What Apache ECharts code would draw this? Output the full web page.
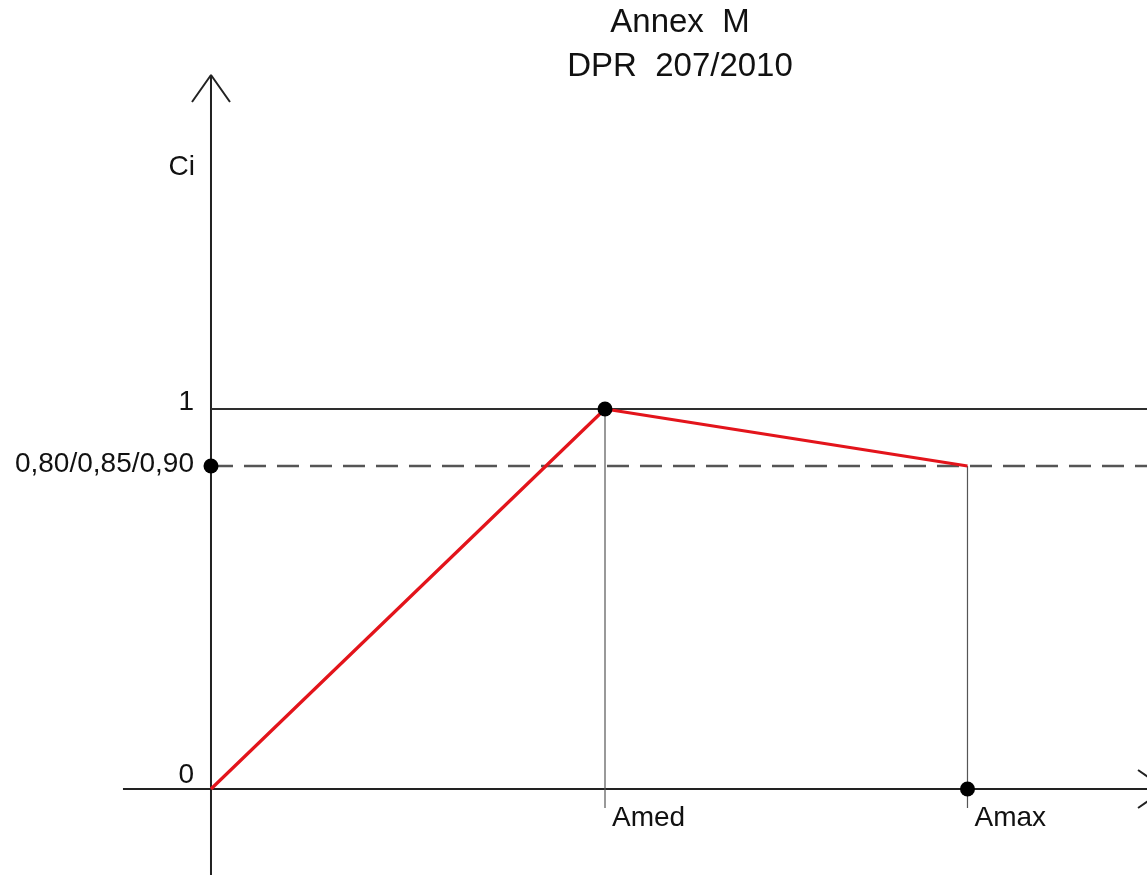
<!DOCTYPE html>
<html>
<head>
<meta charset="utf-8">
<script src="https://cdn.jsdelivr.net/npm/echarts@6/dist/echarts.min.js"></script>
<style>
html,body{margin:0;padding:0;background:#fff;}
#c{width:1147px;height:875px;}
</style>
</head>
<body>
<div id="c"></div>
<script>
// ---- data ----
const titleLines = ['Annex  M', 'DPR  207/2010'];
const yAxisName = 'Ci';
const xKeyValues = [0, 1, 1.92];            // origin, Amed, Amax
const xKeyLabels = ['', 'Amed', 'Amax'];
const ciValues = [0, 1, 0.85];              // Ci at origin, Amed, Amax
const refLevels = [1, 0.85];                // solid line at 1, dashed at 0.85
const yTickValues = [0, 0.85, 1];
const yTickLabels = ['0', '0,80/0,85/0,90', '1'];

// ---- axis extents (chart units) ----
const xMin = -0.5355, xMax = 2.3756;
const yMin = -0.2263, yMax = 2.0763;
const xAxisStart = -0.2234, xAxisTip = 2.4213, xArrowBack = 2.3528, xArrowHalf = 0.05;
const yAxisTip = 1.879, yArrowBack = 1.808, yArrowHalf = 0.0482;
const dropBottom = -0.05;

const font = 'Liberation Sans, Arial, Helvetica, sans-serif';
const axisColor = '#222';
const thinColor = '#555';

const chart = echarts.init(document.getElementById('c'));

const lineSeries = (data, color, width, type, z) => ({
  type: 'line', data, symbol: 'none', silent: true, clip: false, animation: false,
  lineStyle: { color, width, type: type || 'solid' }, z: z || 2
});

const series = [];
// axes
series.push(lineSeries([[xAxisStart, 0], [xAxisTip, 0]], axisColor, 2));
series.push(lineSeries([[xArrowBack, xArrowHalf], [xAxisTip, 0], [xArrowBack, -xArrowHalf]], axisColor, 2));
series.push(lineSeries([[0, yMin], [0, yAxisTip]], axisColor, 2));
series.push(lineSeries([[-yArrowHalf, yArrowBack], [0, yAxisTip], [yArrowHalf, yArrowBack]], axisColor, 2));
// reference levels
series.push(lineSeries([[0, refLevels[0]], [xMax, refLevels[0]]], '#2e2e2e', 1.8));
series.push(lineSeries([[0, refLevels[1]], [xMax, refLevels[1]]], thinColor, 2.4, [22, 11]));
// drop lines
series.push(lineSeries([[xKeyValues[1], ciValues[1]], [xKeyValues[1], dropBottom]], thinColor, 1.2));
series.push(lineSeries([[xKeyValues[2], ciValues[2]], [xKeyValues[2], dropBottom]], thinColor, 1.2));
// Ci curve
series.push({
  type: 'line', data: xKeyValues.map((x, i) => [x, ciValues[i]]), symbol: 'none',
  lineStyle: { color: '#e3141b', width: 3.2 }, z: 5, animation: false, silent: true
});
// dots
series.push({
  type: 'scatter', symbolSize: 15, itemStyle: { color: '#000', opacity: 1 }, z: 6, animation: false,
  data: [[xKeyValues[1], ciValues[1]], [0, refLevels[1]], [xKeyValues[2], 0]]
});
const labelStyle = { fontFamily: font, fontSize: 28, color: '#111' };
// y labels
const yLabelOffsets = [-14, -2, -7];
series.push({
  type: 'scatter', symbolSize: 0, z: 7, animation: false, silent: true,
  itemStyle: { opacity: 1 },
  data: yTickValues.map((v, i) => ({
    value: [0, v],
    label: Object.assign({ show: true, position: 'left', distance: 17, offset: [0, yLabelOffsets[i]],
      formatter: yTickLabels[i] }, labelStyle)
  }))
});
// x labels
series.push({
  type: 'scatter', symbolSize: 0, z: 7, animation: false, silent: true,
  itemStyle: { opacity: 1 },
  data: xKeyValues.map((v, i) => ({
    value: [v, 0],
    label: Object.assign({ show: !!xKeyLabels[i], position: 'bottom', align: 'left', distance: 15, offset: [7, 0],
      formatter: xKeyLabels[i] }, labelStyle)
  }))
});
// axis name
series.push({
  type: 'scatter', symbolSize: 0, z: 7, animation: false, silent: true,
  itemStyle: { opacity: 1 },
  data: [{ value: [0, 1.637], label: Object.assign({ show: true, position: 'left', distance: 16,
    formatter: yAxisName }, labelStyle) }]
});

chart.setOption({
  backgroundColor: '#fff',
  animation: false,
  grid: { left: 0, right: 0, top: 0, bottom: 0 },
  xAxis: { type: 'value', min: xMin, max: xMax, show: false },
  yAxis: { type: 'value', min: yMin, max: yMax, show: false },
  graphic: [{
    type: 'text', x: 680, y: 1,
    style: { text: titleLines.join('\n'), fontFamily: font, fontSize: 33, lineHeight: 44,
      fill: '#111', textAlign: 'center', textVerticalAlign: 'top' }
  }],
  series
});
</script>
</body>
</html>
